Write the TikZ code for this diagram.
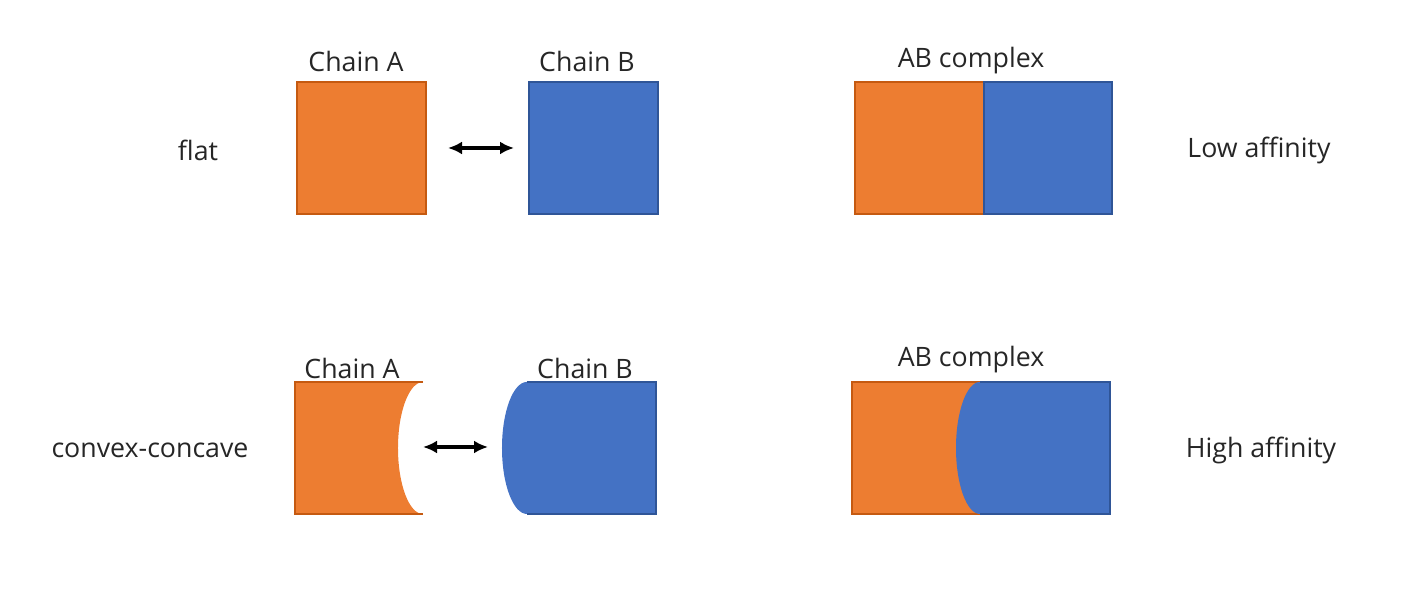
\documentclass[tikz,border=0pt]{standalone}
\usepackage{fontspec}
\setmainfont{Open Sans}
\usetikzlibrary{arrows.meta}

\definecolor{chainorange}{HTML}{ED7D31}
\definecolor{chainblue}{HTML}{4472C4}
\definecolor{orangeline}{HTML}{C55A11}
\definecolor{blueline}{HTML}{2F5597}
\definecolor{textgray}{HTML}{262626}

\tikzset{
  label text/.style={text=textgray, font=\fontsize{7.6}{9}\selectfont, inner sep=0pt},
  chain a/.style={fill=chainorange, draw=orangeline, line width=0.3pt},
  chain b/.style={fill=chainblue, draw=blueline, line width=0.3pt},
  bind/.style={{Latex[length=1.4mm,width=1.3mm]}-{Latex[length=1.4mm,width=1.3mm]}, line width=1pt}
}

\begin{document}
\begin{tikzpicture}[x=0.01cm, y=-0.01cm]
\useasboundingbox (0,0) rectangle (1419,592);

% flat
\node [label text] (flat) at (198,150) {flat};
\node [label text] (titleA1) at (356,61) {Chain A};
\node [label text] (titleB1) at (587,61) {Chain B};
\node [label text] (titleAB1) at (971,61) {AB complex};
\node [label text] (low) at (1259,150) {Low affinity};

\draw [chain a] (297,82) rectangle (426,214);
\draw [chain b] (529,82) rectangle (658,214);
\coordinate (arrowL1) at (448,148);
\coordinate (arrowR1) at (514,148);
\draw [bind] (arrowL1) -- (arrowR1);

\draw [chain a] (855,82) rectangle (984,214);
\draw [chain b] (984,82) rectangle (1112,214);

% convex-concave
\node [label text] (convex) at (150,450) {convex-concave};
\node [label text] (titleA2) at (352,368) {Chain A};
\node [label text] (titleB2) at (585,368) {Chain B};
\node [label text] (titleAB2) at (971,360) {AB complex};
\node [label text] (high) at (1261,450) {High affinity};

\fill [chainorange] (295,382) -- (423,382) arc [start angle=90, end angle=270, x radius=0.25cm, y radius=0.66cm] -- (295,514) -- cycle;
\draw [orangeline, line width=0.3pt] (423,382) -- (295,382) -- (295,514) -- (423,514);
\fill [chainblue] (527,382) -- (656,382) -- (656,514) -- (527,514) arc [start angle=270, end angle=90, x radius=0.25cm, y radius=0.66cm] -- cycle;
\draw [blueline, line width=0.3pt] (527,382) -- (656,382) -- (656,514) -- (527,514);
\coordinate (arrowL2) at (423,447);
\coordinate (arrowR2) at (488,447);
\draw [bind] (arrowL2) -- (arrowR2);

\draw [chain a] (852,382) rectangle (1000,514);
\fill [chainblue] (980,382) -- (1110,382) -- (1110,514) -- (980,514) arc [start angle=270, end angle=90, x radius=0.24cm, y radius=0.66cm] -- cycle;
\draw [blueline, line width=0.3pt] (980,382) -- (1110,382) -- (1110,514) -- (980,514);
\end{tikzpicture}
\end{document}
